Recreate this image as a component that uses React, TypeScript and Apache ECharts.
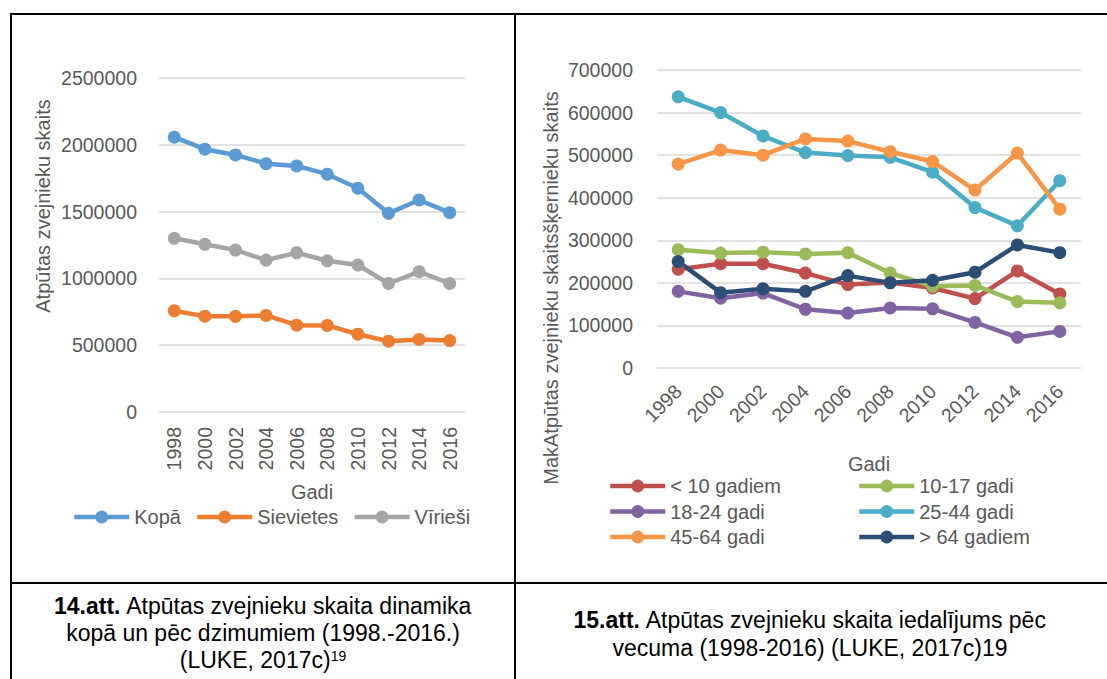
import React, { useEffect, useRef } from "react";
import * as echarts from "echarts";

const years = ["1998", "2000", "2002", "2004", "2006", "2008", "2010", "2012", "2014", "2016"];

// Chart 14: by gender
const kopa = [2057000, 1967000, 1924000, 1859000, 1842000, 1780000, 1675000, 1487000, 1587000, 1492000];
const sievietes = [757000, 717000, 716000, 723000, 650000, 648000, 582000, 530000, 543000, 535000];
const virieSi = [1300000, 1255000, 1212000, 1137000, 1192000, 1132000, 1100000, 962000, 1050000, 962000];
const leftTicks = { min: 0, max: 2500000, interval: 500000 };

// Chart 15: by age
const under10 = [232000, 245000, 245000, 223000, 196000, 201000, 188000, 163000, 228000, 174000];
const age10_17 = [278000, 270000, 272000, 268000, 271000, 223000, 192000, 194000, 156000, 153000];
const age18_24 = [180000, 164000, 176000, 138000, 129000, 141000, 139000, 107000, 72000, 86000];
const age25_44 = [637000, 600000, 545000, 506000, 499000, 495000, 460000, 377000, 334000, 440000];
const age45_64 = [479000, 512000, 500000, 538000, 533000, 508000, 485000, 418000, 505000, 373000];
const over64 = [250000, 177000, 186000, 180000, 217000, 200000, 206000, 225000, 289000, 271000];
const rightTicks = { min: 0, max: 700000, interval: 100000 };

const FONT = '"Liberation Sans", Arial, sans-serif';
const GRAY = "#595959";
const GRID = "#D9D9D9";

function lineSeries(name: string, data: number[], color: string, idx: number) {
  return {
    type: "line",
    name,
    data,
    xAxisIndex: idx,
    yAxisIndex: idx,
    symbol: "circle",
    symbolSize: 13,
    showSymbol: true,
    itemStyle: { color },
    lineStyle: { color, width: 4.5 },
    emphasis: { disabled: true },
  };
}

export default function App() {
  const ref = useRef<HTMLDivElement>(null);
  useEffect(() => {
    if (!ref.current) return;
    const chart = echarts.init(ref.current, undefined, { renderer: "svg" });
    const axisLabelBase = {
      color: GRAY,
      fontFamily: FONT,
      fontSize: 19.5,
      formatter: (v: any) => String(v),
    };
    const legendBase = {
      itemWidth: 55,
      itemHeight: 16,
      padding: 0,
      lineStyle: { width: 4.5 },
      textStyle: { color: GRAY, fontFamily: FONT, fontSize: 20, lineHeight: 22 },
      selectedMode: false,
    };
    const nameStyle = { color: GRAY, fontFamily: FONT, fontSize: 20 };
    const border = { stroke: "#000", lineWidth: 2 };
    const capFont = `23px ${FONT}`;
    chart.setOption({
      animation: false,
      backgroundColor: "#fff",
      grid: [
        { left: 159, right: 1107 - 465, top: 78, bottom: 679 - 412, containLabel: false },
        { left: 657, right: 1107 - 1081, top: 70, bottom: 679 - 368, containLabel: false },
      ],
      xAxis: [
        {
          gridIndex: 0,
          type: "category",
          data: years,
          boundaryGap: true,
          axisLine: { show: false },
          axisTick: { show: false },
          axisLabel: { ...axisLabelBase, rotate: 90, margin: 15 },
          name: "Gadi",
          nameLocation: "middle",
          nameGap: 70,
          nameTextStyle: nameStyle,
        },
        {
          gridIndex: 1,
          type: "category",
          data: years,
          boundaryGap: true,
          axisLine: { show: false },
          axisTick: { show: false },
          axisLabel: { ...axisLabelBase, rotate: 45, margin: 20 },
          name: "Gadi",
          nameLocation: "middle",
          nameGap: 86,
          nameTextStyle: nameStyle,
        },
      ],
      yAxis: [
        {
          gridIndex: 0,
          type: "value",
          ...leftTicks,
          axisLine: { show: false },
          axisTick: { show: false },
          axisLabel: { ...axisLabelBase, margin: 22 },
          splitLine: { lineStyle: { color: GRID, width: 1.5 } },
        },
        {
          gridIndex: 1,
          type: "value",
          ...rightTicks,
          axisLine: { show: false },
          axisTick: { show: false },
          axisLabel: { ...axisLabelBase, margin: 24 },
          splitLine: { lineStyle: { color: GRID, width: 1.5 } },
        },
      ],
      legend: [
        {
          ...legendBase,
          data: ["Kopā", "Sievietes", "Vīrieši"],
          orient: "horizontal",
          left: 72,
          top: 506,
          itemGap: 14,
        },
        {
          ...legendBase,
          data: ["< 10 gadiem", "18-24 gadi", "45-64 gadi"],
          orient: "vertical",
          left: 608,
          top: 475,
          itemGap: 3.5,
        },
        {
          ...legendBase,
          data: ["10-17 gadi", "25-44 gadi", "> 64 gadiem"],
          orient: "vertical",
          left: 857,
          top: 475,
          itemGap: 3.5,
        },
      ],
      series: [
        lineSeries("Kopā", kopa, "#5B9BD5", 0),
        lineSeries("Sievietes", sievietes, "#ED7D31", 0),
        lineSeries("Vīrieši", virieSi, "#A5A5A5", 0),
        lineSeries("< 10 gadiem", under10, "#C0504D", 1),
        lineSeries("10-17 gadi", age10_17, "#9BBB59", 1),
        lineSeries("18-24 gadi", age18_24, "#8064A2", 1),
        lineSeries("25-44 gadi", age25_44, "#4BACC6", 1),
        lineSeries("45-64 gadi", age45_64, "#F79646", 1),
        lineSeries("> 64 gadiem", over64, "#2C4D75", 1),
      ],
      graphic: [
        { type: "line", shape: { x1: 10, y1: 14, x2: 1107, y2: 14 }, style: border, silent: true },
        { type: "line", shape: { x1: 11, y1: 13, x2: 11, y2: 679 }, style: border, silent: true },
        { type: "line", shape: { x1: 515, y1: 13, x2: 515, y2: 679 }, style: border, silent: true },
        { type: "line", shape: { x1: 10, y1: 583, x2: 1107, y2: 583 }, style: border, silent: true },
        {
          type: "text",
          x: 43,
          y: 206,
          rotation: Math.PI / 2,
          style: {
            text: "Atpūtas zvejnieku skaits",
            fill: GRAY,
            font: `20px ${FONT}`,
            align: "center",
            verticalAlign: "middle",
          },
        },
        {
          type: "text",
          x: 551,
          y: 288,
          rotation: Math.PI / 2,
          style: {
            text: "MakAtpūtas zvejnieku skaitsšķernieku skaits",
            fill: GRAY,
            font: `20px ${FONT}`,
            align: "center",
            verticalAlign: "middle",
          },
        },
        {
          type: "text",
          x: 263,
          y: 606,
          style: {
            text: "{b|14.att.} Atpūtas zvejnieku skaita dinamika",
            fill: "#000",
            font: capFont,
            align: "center",
            verticalAlign: "middle",
            rich: { b: { fontWeight: "bold", fontFamily: FONT, fontSize: 23, fill: "#000" } },
          },
        },
        {
          type: "text",
          x: 263,
          y: 633,
          style: {
            text: "kopā un pēc dzimumiem (1998.-2016.)",
            fill: "#000",
            font: capFont,
            align: "center",
            verticalAlign: "middle",
          },
        },
        {
          type: "text",
          x: 263,
          y: 660,
          style: {
            text: "(LUKE, 2017c){s|19}",
            fill: "#000",
            font: capFont,
            align: "center",
            verticalAlign: "middle",
            rich: { s: { fontFamily: FONT, fontSize: 14, verticalAlign: "top", fill: "#000" } },
          },
        },
        {
          type: "text",
          x: 810,
          y: 620,
          style: {
            text: "{b|15.att.} Atpūtas zvejnieku skaita iedalījums pēc",
            fill: "#000",
            font: capFont,
            align: "center",
            verticalAlign: "middle",
            rich: { b: { fontWeight: "bold", fontFamily: FONT, fontSize: 23, fill: "#000" } },
          },
        },
        {
          type: "text",
          x: 810,
          y: 648,
          style: {
            text: "vecuma (1998-2016) (LUKE, 2017c)19",
            fill: "#000",
            font: capFont,
            align: "center",
            verticalAlign: "middle",
          },
        },
      ],
    });
    return () => chart.dispose();
  }, []);
  return (
    <div
      ref={ref}
      style={{ position: "fixed", left: 0, top: 0, width: 1107, height: 679, background: "#fff" }}
    />
  );
}
